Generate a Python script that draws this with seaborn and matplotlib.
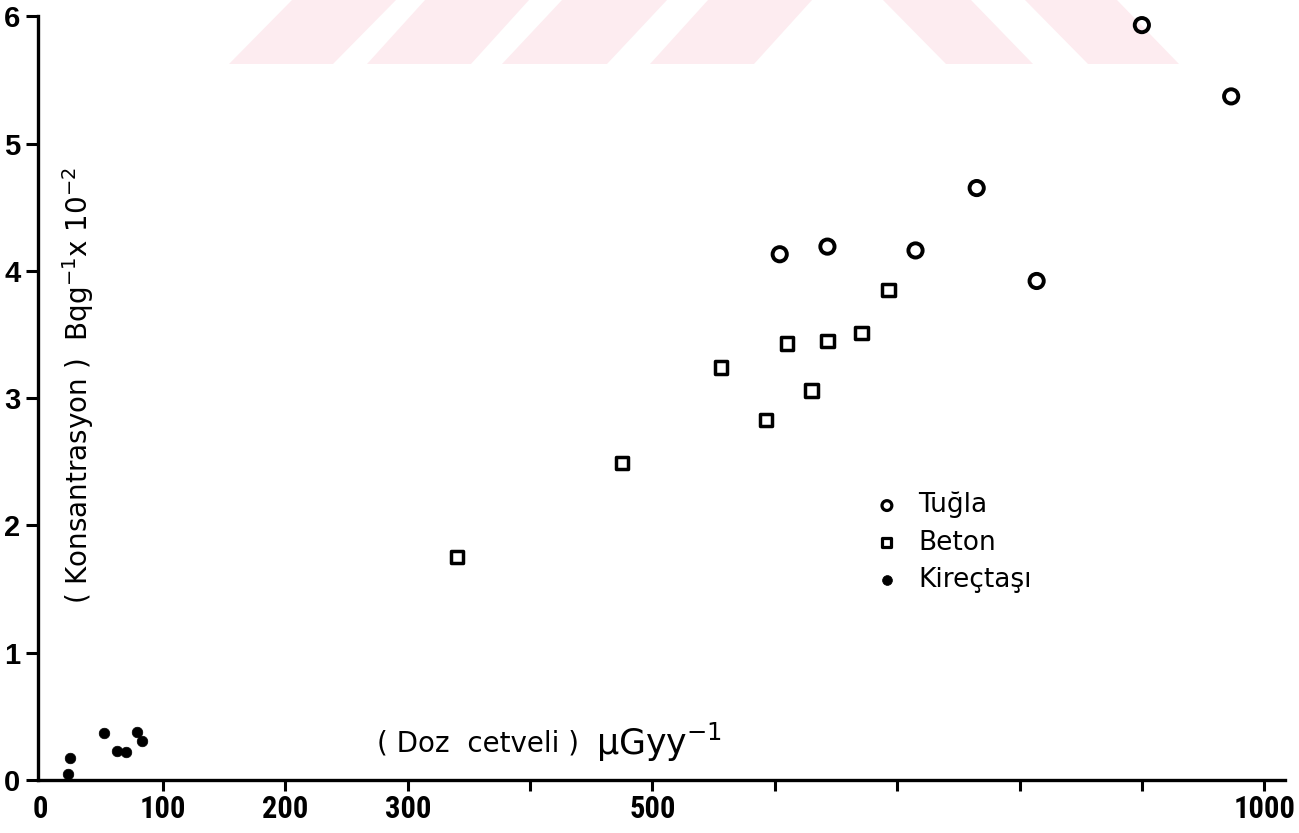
import matplotlib
matplotlib.use("Agg")
import matplotlib.pyplot as plt
from matplotlib.patches import Polygon
import pandas as pd
import seaborn as sns

# Tuğla / Beton / Kireçtaşı : doz (μGy/y) vs konsantrasyon (Bq/g x 10^-2)
tugla_x = [604, 643, 715, 765, 814, 900, 973]
tugla_y = [4.13, 4.19, 4.16, 4.65, 3.92, 5.93, 5.37]
beton_x = [340, 475, 556, 593, 610, 630, 643, 671, 693]
beton_y = [1.75, 2.49, 3.24, 2.83, 3.43, 3.06, 3.45, 3.51, 3.85]
kirec_x = [22, 24, 52, 62, 70, 79, 83]
kirec_y = [0.05, 0.17, 0.37, 0.23, 0.22, 0.38, 0.31]

x_ticks = [100, 200, 300, 400, 500, 600, 700, 800, 900, 1000]
x_ticklabels = ["100", "200", "300", "", "500", "", "", "", "", "1000"]
y_ticks = [0, 1, 2, 3, 4, 5, 6]

# faint watermark stripes at the top of the scan (pixel coords: bottom-left, bottom-right, top-right, top-left)
stripes = [
    (229, 333, 396, 292), (367, 471, 529, 425), (502, 607, 667, 562),
    (650, 754, 812, 708), (946, 1033, 971, 883), (1088, 1179, 1117, 1025),
]

df = pd.concat([
    pd.DataFrame({"doz": tugla_x, "kons": tugla_y, "tur": "Tuğla"}),
    pd.DataFrame({"doz": beton_x, "kons": beton_y, "tur": "Beton"}),
    pd.DataFrame({"doz": kirec_x, "kons": kirec_y, "tur": "Kireçtaşı"}),
], ignore_index=True)

sns.set_style("ticks")
plt.rcParams["font.family"] = ["DejaVu Sans"]
for k in ["text.color", "axes.edgecolor", "axes.labelcolor", "xtick.color", "ytick.color"]:
    plt.rcParams[k] = "black"

W, H = 1299, 833
fig = plt.figure(figsize=(W / 100, H / 100), dpi=100)
ax = fig.add_axes([37.7 / W, 1 - 780 / H, (1285 - 37.7) / W, (780 - 16.2) / H])
ax.set_facecolor("none")

for x0, x1, x2, x3 in stripes:
    pts = [(x0 / W, 1 - 64 / H), (x1 / W, 1 - 64 / H), (x2 / W, 1.0), (x3 / W, 1.0)]
    fig.patches.append(Polygon(pts, closed=True, transform=fig.transFigure,
                               facecolor="#fdecf0", edgecolor="none", zorder=-5))

sns.scatterplot(data=df[df.tur == "Tuğla"], x="doz", y="kons", marker="o", s=105,
                facecolor="none", edgecolor="black", linewidth=2.8, label="Tuğla", ax=ax)
sns.scatterplot(data=df[df.tur == "Beton"], x="doz", y="kons", marker="s", s=80,
                facecolor="none", edgecolor="black", linewidth=2.5, label="Beton", ax=ax)
sns.scatterplot(data=df[df.tur == "Kireçtaşı"], x="doz", y="kons", marker="o", s=58,
                color="black", edgecolor="black", linewidth=0.5, label="Kireçtaşı", ax=ax)

ax.set_xlim(-2.5, 1017)
ax.set_ylim(0, 6)
sns.despine(ax=ax)
for side in ["left", "bottom"]:
    ax.spines[side].set_linewidth(2.4)

xfont = {"family": ["Roboto Condensed", "Liberation Sans"], "weight": "bold", "size": 22}
yfont = {"family": ["Liberation Sans", "DejaVu Sans"], "weight": "bold", "size": 21}
ax.set_xticks(x_ticks, x_ticklabels, fontdict=xfont)
ax.set_xticks([0], ["0"], minor=True, fontdict=xfont)
ax.set_yticks(y_ticks, [str(v) for v in y_ticks], fontdict=yfont)
ax.tick_params(axis="x", which="major", direction="out", length=8, width=2.2, pad=2)
ax.tick_params(axis="x", which="minor", length=0, pad=10)
ax.tick_params(axis="y", direction="out", length=8.5, width=2.2, pad=4)

ax.set_xlabel("( Doz  cetveli )", fontsize=20)
ax.xaxis.set_label_coords((478 - 37.7) / 1247.3, 0.066)
ax.text((596 - 37.7) / 1247.3, 0.049, "μGyy$^{-1}$", fontsize=25, ha="left", va="center",
        transform=ax.transAxes)
ax.set_ylabel("( Konsantrasyon )  Bqg$^{-1}$x 10$^{-2}$", fontsize=20)
ax.yaxis.set_label_coords(0.047, 0.516)

leg = ax.legend(loc="upper left", bbox_to_anchor=((879 - 37.7) / 1247.3, (780 - 492) / 763.8),
                frameon=False, fontsize=19, handlelength=0.6,
                handletextpad=0.9, labelspacing=0.42, borderpad=0, borderaxespad=0)
for h, sz in zip(leg.legend_handles, [50, 42, 50]):
    h.set_sizes([sz])
    h.set_linewidth(2.3 if sz != 50 or h.get_label() != "Kireçtaşı" else 0.5)

fig.savefig("out.png", dpi=100)
